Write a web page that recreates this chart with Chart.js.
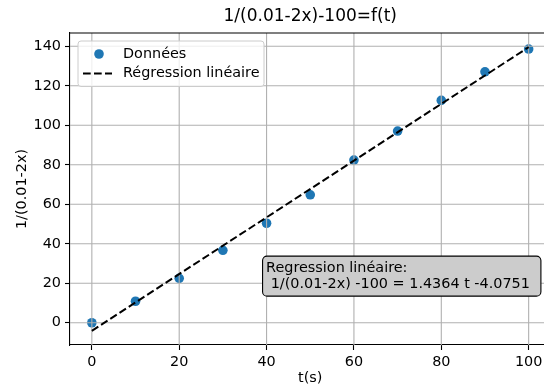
<!DOCTYPE html>
<html>
<head>
<meta charset="utf-8">
<script src="https://cdn.jsdelivr.net/npm/chart.js@4.4.1/dist/chart.umd.min.js"></script>
<style>
  html, body { margin: 0; padding: 0; background: #fff; overflow: hidden; width: 544px; height: 392px; }
  canvas { display: block; }
</style>
</head>
<body>
<canvas id="c" width="560" height="392"></canvas>
<script>
// ---- data ----
const timesS = [0, 10, 20, 30, 40, 50, 60, 70, 80, 90, 100];
const invValues = [0, 10.9, 22.5, 36.7, 50.4, 64.8, 82.4, 97.1, 112.6, 127.1, 138.6];
const regT = [0, 100];
const regY = [-4.0751, 139.5649];
const xTicks = [0, 20, 40, 60, 80, 100];
const yTicks = [0, 20, 40, 60, 80, 100, 120, 140];
const titleText = '1/(0.01-2x)-100=f(t)';
const xLabel = 't(s)';
const yLabel = '1/(0.01-2x)';
const legendLabels = ['Données', 'Régression linéaire'];
const boxLines = ['Regression linéaire:', ' 1/(0.01-2x) -100 = 1.4364 t -4.0751'];
const boxAnchor = { x: 40, y: 15 };

const FONT = "'DejaVu Sans', sans-serif";
const BODY = 14.4;
const BLUE = '#1f77b4';

const scatterPts = timesS.map((t, i) => ({ x: t, y: invValues[i] }));
const regPts = regT.map((t, i) => ({ x: t, y: regY[i] }));

const gridPlugin = {
  id: 'mplGrid',
  beforeDatasetDraw(chart, args) {
    if (args.index !== 0) return;
    const { ctx, chartArea: a, scales: { x, y } } = chart;
    ctx.save();
    ctx.beginPath();
    ctx.rect(a.left, a.top, a.right - a.left, a.bottom - a.top);
    ctx.clip();
    ctx.strokeStyle = '#b0b0b0';
    ctx.lineWidth = 1.1;
    xTicks.forEach(v => {
      const p = x.getPixelForValue(v);
      ctx.beginPath(); ctx.moveTo(p, a.top); ctx.lineTo(p, a.bottom); ctx.stroke();
    });
    yTicks.forEach(v => {
      const p = y.getPixelForValue(v);
      ctx.beginPath(); ctx.moveTo(a.left, p); ctx.lineTo(a.right, p); ctx.stroke();
    });
    ctx.restore();
  },
  afterDraw(chart) {
    const { ctx, chartArea: a, scales: { x, y } } = chart;
    ctx.save();
    // top & right spines
    ctx.strokeStyle = '#000';
    ctx.lineWidth = 1.1;
    ctx.beginPath();
    ctx.moveTo(a.left, a.top); ctx.lineTo(a.right, a.top); ctx.lineTo(a.right, a.bottom);
    ctx.stroke();

    // title
    ctx.fillStyle = '#000';
    ctx.font = `17px ${FONT}`;
    ctx.textAlign = 'center';
    ctx.textBaseline = 'middle';
    ctx.fillText(titleText, (a.left + a.right) / 2, 16.5);

    // legend
    const lx = 78, ly = 41, lw = 186, lh = 45.5, r = 3;
    ctx.beginPath();
    ctx.roundRect(lx, ly, lw, lh, r);
    ctx.fillStyle = 'rgba(255,255,255,0.8)';
    ctx.fill();
    ctx.strokeStyle = '#cccccc';
    ctx.lineWidth = 1;
    ctx.stroke();
    ctx.fillStyle = BLUE;
    ctx.beginPath(); ctx.arc(99, 54, 4.8, 0, Math.PI * 2); ctx.fill();
    ctx.strokeStyle = '#000';
    ctx.lineWidth = 2;
    ctx.setLineDash([7.7, 3.3]);
    ctx.beginPath(); ctx.moveTo(83, 73.5); ctx.lineTo(112, 73.5); ctx.stroke();
    ctx.setLineDash([]);
    ctx.fillStyle = '#000';
    ctx.font = `${BODY}px ${FONT}`;
    ctx.textAlign = 'left';
    ctx.textBaseline = 'middle';
    ctx.fillText(legendLabels[0], 123, 54);
    ctx.fillText(legendLabels[1], 123, 73.5);

    // annotation box
    const px = x.getPixelForValue(boxAnchor.x) - 0.5;
    const pyBottom = y.getPixelForValue(boxAnchor.y);
    const lineH = BODY * 1.15;
    const c2 = pyBottom - 8.5;
    const c1 = c2 - lineH;
    const w = Math.max(...boxLines.map(s => ctx.measureText(s).width));
    ctx.beginPath();
    ctx.roundRect(px - 3.5, c1 - 12, w + 3.5 + 11, (c2 + 11.5) - (c1 - 12), 4.5);
    ctx.fillStyle = '#cccccc';
    ctx.fill();
    ctx.strokeStyle = '#000';
    ctx.lineWidth = 1.1;
    ctx.stroke();
    ctx.fillStyle = '#000';
    ctx.fillText(boxLines[0], px, c1);
    ctx.fillText(boxLines[1], px, c2);
    ctx.restore();
  }
};

new Chart(document.getElementById('c'), {
  type: 'scatter',
  data: {
    datasets: [
      {
        type: 'line',
        label: legendLabels[1],
        data: regPts,
        borderColor: '#000',
        borderWidth: 2,
        borderDash: [7.7, 3.3],
        pointRadius: 0,
        fill: false,
        tension: 0
      },
      {
        label: legendLabels[0],
        data: scatterPts,
        backgroundColor: BLUE,
        borderWidth: 0,
        pointRadius: 4.8
      }
    ]
  },
  options: {
    responsive: false,
    animation: false,
    devicePixelRatio: 1,
    layout: { padding: { top: 33, right: 9.5, bottom: 0, left: 0 } },
    plugins: { legend: { display: false }, title: { display: false }, tooltip: { enabled: false } },
    scales: {
      x: {
        type: 'linear',
        min: -5,
        max: 105,
        afterFit(s) { s.height = 47; },
        afterBuildTicks(s) { s.ticks = xTicks.map(v => ({ value: v })); },
        grid: { drawOnChartArea: false, tickLength: 5, tickColor: '#000', tickWidth: 1.1 },
        border: { color: '#000', width: 1.1 },
        ticks: { color: '#000', font: { family: FONT, size: BODY }, padding: 4, maxRotation: 0 },
        title: { display: true, text: xLabel, color: '#000', font: { family: FONT, size: BODY }, padding: { top: 0, bottom: 5 } }
      },
      y: {
        type: 'linear',
        min: -11.26,
        max: 146.74,
        afterFit(s) { s.width = 70; },
        afterBuildTicks(s) { s.ticks = yTicks.map(v => ({ value: v })); },
        grid: { drawOnChartArea: false, tickLength: 5, tickColor: '#000', tickWidth: 1.1 },
        border: { color: '#000', width: 1.1 },
        ticks: { color: '#000', font: { family: FONT, size: BODY }, padding: 4 },
        title: { display: true, text: yLabel, color: '#000', font: { family: FONT, size: BODY }, padding: { top: 14, bottom: 0 } }
      }
    }
  },
  plugins: [gridPlugin]
});
</script>
</body>
</html>
